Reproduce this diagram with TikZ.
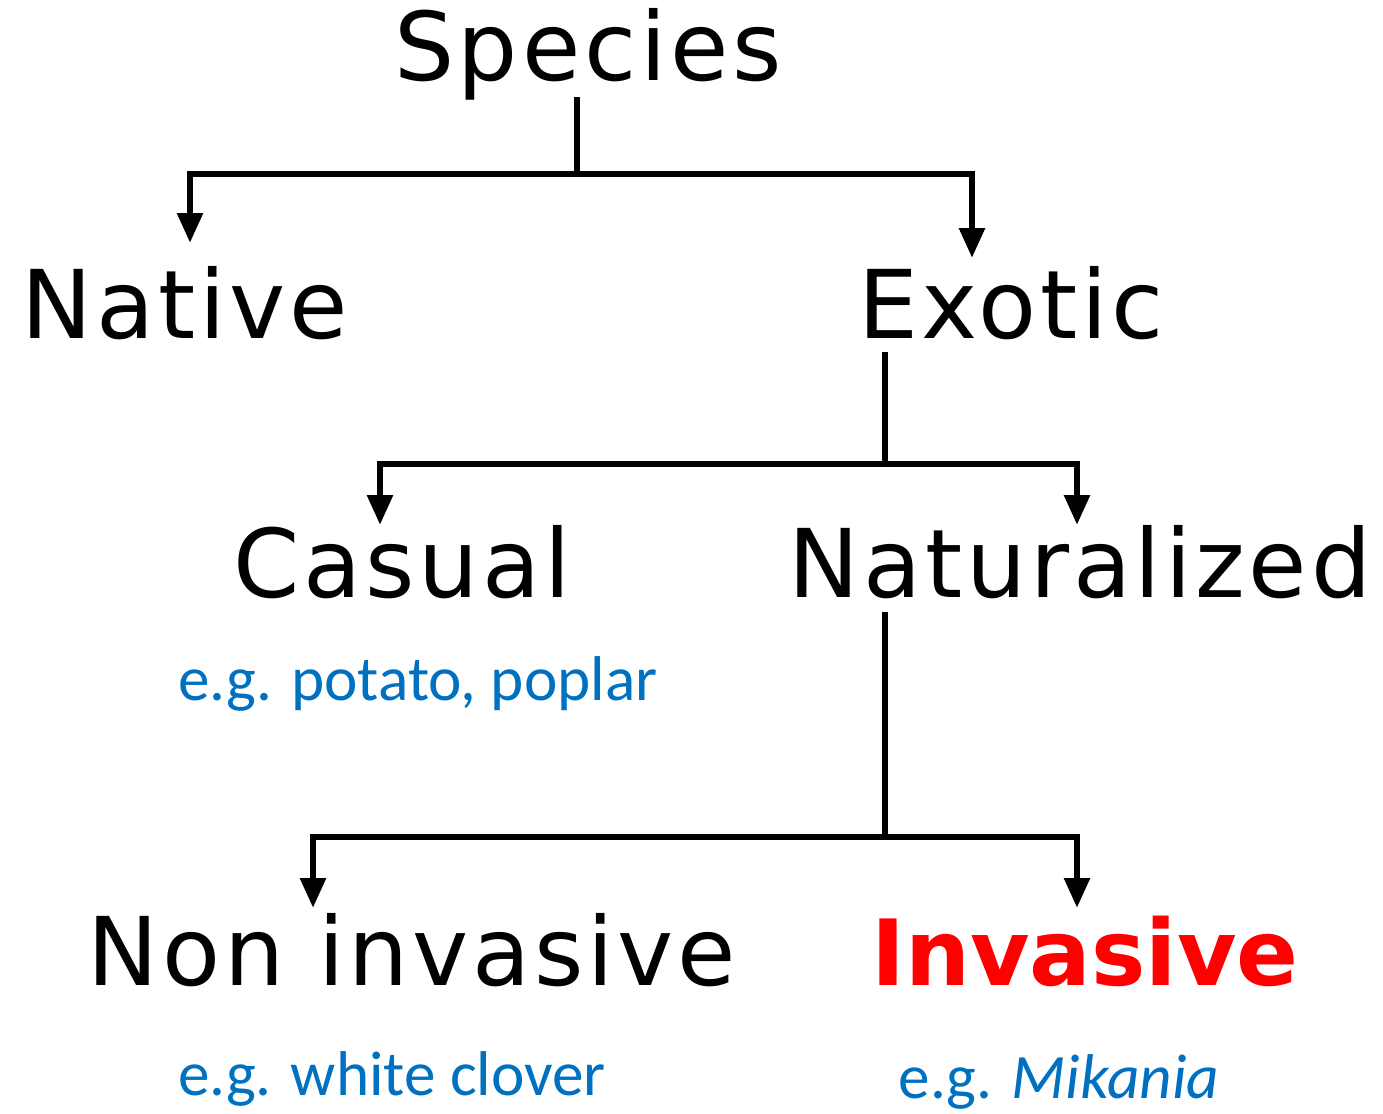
\documentclass[tikz,border=0pt]{standalone}
\usepackage{fontspec}
\usetikzlibrary{arrows.meta}
\newfontfamily\levelfont{DejaVu Sans}[LetterSpace=4]
\newfontfamily\hotfont{DejaVu Sans}
\newfontfamily\notefont{Carlito}
\definecolor{noteblue}{RGB}{0,112,192}
\definecolor{hotred}{RGB}{255,0,0}
\tikzset{
  level/.style={anchor=base, inner sep=0pt, font=\levelfont\fontsize{54}{62}\selectfont},
  note/.style={anchor=base, inner sep=0pt, text=noteblue, font=\notefont\fontsize{36}{42}\selectfont},
  branch/.style={line width=3.7pt},
  arrow/.style={line width=3.7pt, -{Triangle[width=14pt,length=17pt]}}
}
\begin{document}
\begin{tikzpicture}[x=0.02cm, y=-0.02cm]
    \useasboundingbox (0,0) rectangle (1383,1113);

    % Levels of the tree
    \node[level] (species) at (588,80) {Species};
    \node[level] (native) at (185,338) {Native};
    \node[level] (exotic) at (1011,338) {Exotic};
    \node[level] (casual) at (402,597) {Casual};
    \node[level] (natural) at (1080,597) {Naturalized};
    \node[level] (noninv) at (412,985) {Non invasive};
    \node[level, font=\hotfont\bfseries\fontsize{52}{60}\selectfont, text=hotred] (inv) at (1085,985) {Invasive};

    % Examples
    \node[note] (casualex) at (418,700) {e.g. potato, poplar};
    \node[note] (noninvex) at (392,1095) {e.g. white clover};
    \node[note] (invex) at (1059,1098) {e.g. \textit{Mikania}};

    % Branch points
    \coordinate (s0) at (577,97);
    \coordinate (s1) at (577,174);
    \coordinate (nativetip) at (190,243);
    \coordinate (exotictip) at (972,258);
    \coordinate (e0) at (885,352);
    \coordinate (e1) at (885,464);
    \coordinate (casualtip) at (380,525);
    \coordinate (naturaltip) at (1077,525);
    \coordinate (n0) at (885,612);
    \coordinate (n1) at (885,837);
    \coordinate (noninvtip) at (313,908);
    \coordinate (invtip) at (1077,908);

    % Species
    \draw[branch] (s0) -- (s1);
    \draw[arrow] (s1) -| (nativetip);
    \draw[arrow] (s1) -| (exotictip);

    % Exotic
    \draw[branch] (e0) -- (e1);
    \draw[arrow] (e1) -| (casualtip);
    \draw[arrow] (e1) -| (naturaltip);

    % Naturalized
    \draw[branch] (n0) -- (n1);
    \draw[arrow] (n1) -| (noninvtip);
    \draw[arrow] (n1) -| (invtip);

\end{tikzpicture}
\end{document}
